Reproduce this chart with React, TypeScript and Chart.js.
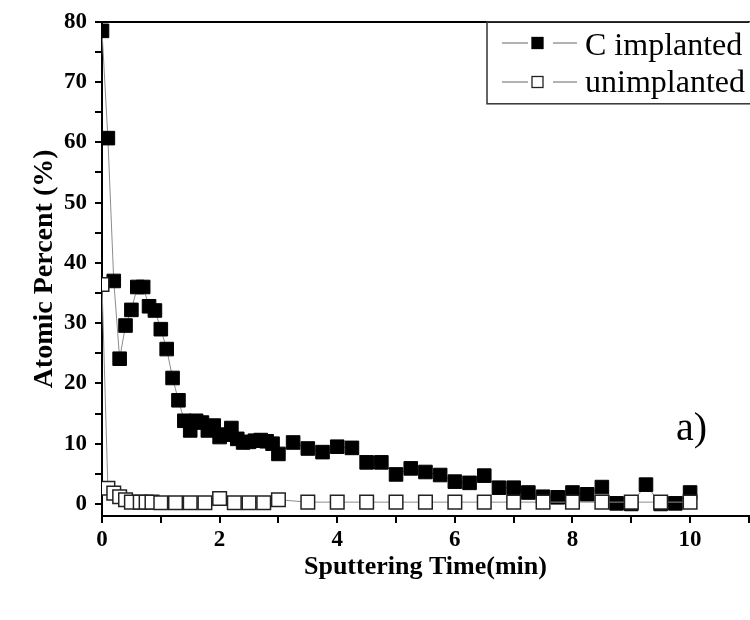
import React, { useEffect, useRef } from "react";
import { Chart, registerables } from "chart.js";

Chart.register(...registerables);

// ---- data ----
const cTime = [
  0, 0.1, 0.2, 0.3, 0.4, 0.5, 0.6, 0.7, 0.8, 0.9, 1.0, 1.1, 1.2, 1.3,
  1.4, 1.5, 1.6, 1.7, 1.8, 1.9, 2.0, 2.1, 2.2, 2.3, 2.4, 2.5, 2.6, 2.7, 2.8, 2.9, 3.0,
  3.25, 3.5, 3.75, 4.0, 4.25, 4.5, 4.75, 5.0, 5.25, 5.5, 5.75, 6.0, 6.25, 6.5, 6.75,
  7.0, 7.25, 7.5, 7.75, 8.0, 8.25, 8.5, 8.75, 9.0, 9.25, 9.5, 9.75, 10.0,
];
const cValues = [
  78.5, 60.7, 37.0, 24.1, 29.6, 32.2, 36.0, 36.0, 32.8, 32.1, 29.0, 25.7, 20.9, 17.2,
  13.8, 12.2, 13.8, 13.5, 12.2, 13.0, 11.1, 11.5, 12.6, 10.8, 10.2, 10.3, 10.5, 10.6, 10.4, 10.0, 8.3,
  10.2, 9.2, 8.6, 9.5, 9.3, 6.9, 6.9, 4.9, 5.9, 5.3, 4.8, 3.7, 3.5, 4.7, 2.7,
  2.7, 1.9, 1.2, 1.1, 1.9, 1.6, 2.8, 0.1, 0.0, 3.2, 0.0, 0.1, 1.9,
];

const uTime = [
  0, 0.1, 0.2, 0.3, 0.4, 0.5, 0.65, 0.75, 0.85, 1.0, 1.25, 1.5, 1.75, 2.0, 2.25, 2.5, 2.75, 3.0,
  3.5, 4.0, 4.5, 5.0, 5.5, 6.0, 6.5, 7.0, 7.5, 8.0, 8.5, 9.0, 9.5, 10.0,
];
const uValues = [
  36.4, 2.6, 1.8, 1.2, 0.7, 0.3, 0.3, 0.3, 0.3, 0.2, 0.2, 0.2, 0.2, 0.9, 0.2, 0.2, 0.2, 0.7,
  0.3, 0.3, 0.3, 0.3, 0.3, 0.3, 0.3, 0.3, 0.3, 0.3, 0.3, 0.3, 0.3, 0.3,
];

const seriesNames = ["C implanted", "unimplanted"];
const xTickValues = [0, 1, 2, 3, 4, 5, 6, 7, 8, 9, 10, 11];
const xTickLabels = ["0", "", "2", "", "4", "", "6", "", "8", "", "10", ""];
const yTickValues = [0, 5, 10, 15, 20, 25, 30, 35, 40, 45, 50, 55, 60, 65, 70, 75, 80];
const yTickLabels = ["0", "", "10", "", "20", "", "30", "", "40", "", "50", "", "60", "", "70", "", "80"];
const xTitle = "Sputtering Time(min)";
const yTitle = "Atomic Percent (%)";
const panelLabel = "a)";

const SERIF = "'Liberation Serif', 'Times New Roman', serif";

const overlayPlugin = {
  id: "overlay",
  afterDraw(chart: any) {
    const ctx = chart.ctx;
    const ca = chart.chartArea;
    ctx.save();
    // legend box
    const bx = ca.left + 385;
    const by = ca.top;
    ctx.strokeStyle = "#333";
    ctx.lineWidth = 1.5;
    ctx.strokeRect(bx, by, 300, 82);
    const rows = [
      { y: 43, fill: "#000", stroke: "#000", text: seriesNames[0], base: 55 },
      { y: 82, fill: "#fff", stroke: "#222", text: seriesNames[1], base: 92 },
    ];
    rows.forEach((r) => {
      ctx.strokeStyle = "#666";
      ctx.lineWidth = 1;
      ctx.beginPath();
      ctx.moveTo(bx + 15, r.y);
      ctx.lineTo(bx + 41, r.y);
      ctx.moveTo(bx + 66, r.y);
      ctx.lineTo(bx + 90, r.y);
      ctx.stroke();
      ctx.fillStyle = r.fill;
      ctx.fillRect(bx + 45, r.y - 5.5, 11, 11);
      ctx.strokeStyle = r.stroke;
      ctx.lineWidth = 1.3;
      ctx.strokeRect(bx + 45, r.y - 5.5, 11, 11);
      ctx.fillStyle = "#000";
      ctx.font = `32px ${SERIF}`;
      ctx.textBaseline = "alphabetic";
      ctx.textAlign = "left";
      ctx.fillText(r.text, bx + 98, r.base);
    });
    // panel label
    ctx.font = `40px ${SERIF}`;
    ctx.fillStyle = "#000";
    ctx.fillText(panelLabel, 676, 440);
    ctx.restore();
  },
};

export default function App() {
  const ref = useRef<HTMLCanvasElement | null>(null);

  useEffect(() => {
    if (!ref.current) return;
    const tickFont = { family: SERIF, size: 23, weight: "bold" as const };
    const xTitleFont = { family: SERIF, size: 26, weight: "bold" as const };
    const yTitleFont = { family: SERIF, size: 28, weight: "bold" as const };
    const chart = new Chart(ref.current, {
      type: "scatter",
      data: {
        datasets: [
          {
            label: seriesNames[0],
            data: cTime.map((t, i) => ({ x: t, y: cValues[i] })),
            showLine: true,
            borderColor: "#8c8c8c",
            borderWidth: 1,
            pointStyle: "rect",
            pointRadius: 9.6,
            pointBackgroundColor: "#000",
            pointBorderColor: "#000",
            pointBorderWidth: 1,
            order: 1,
          },
          {
            label: seriesNames[1],
            data: uTime.map((t, i) => ({ x: t, y: uValues[i] })),
            showLine: true,
            borderColor: "#8c8c8c",
            borderWidth: 1,
            pointStyle: "rect",
            pointRadius: 9.6,
            pointBackgroundColor: "#fff",
            pointBorderColor: "#222",
            pointBorderWidth: 1.5,
            order: 0,
          },
        ],
      },
      options: {
        animation: false,
        responsive: false,
        devicePixelRatio: 1,
        layout: { padding: { left: 28, top: 18, right: 7, bottom: 37 } },
        plugins: { legend: { display: false }, tooltip: { enabled: false } },
        scales: {
          x: {
            type: "linear",
            position: "bottom",
            min: 0,
            max: 11,
            afterBuildTicks: (s: any) => {
              s.ticks = xTickValues.map((v) => ({ value: v }));
            },
            afterFit: (s: any) => {
              s.height = 67;
            },
            ticks: {
              font: tickFont,
              color: "#000",
              padding: 3,
              maxRotation: 0,
              autoSkip: false,
              callback: (v: any) => {
                const i = xTickValues.indexOf(Number(v));
                return i >= 0 ? xTickLabels[i] : "";
              },
            },
            grid: { drawOnChartArea: false, drawTicks: true, tickLength: 7, color: "#000", lineWidth: 2 },
            border: { display: true, color: "#000", width: 2 },
            title: { display: true, text: xTitle, font: xTitleFont, color: "#000", padding: 0 },
          },
          x2: {
            type: "linear",
            position: "top",
            min: 0,
            max: 11,
            afterFit: (s: any) => {
              s.height = 0;
            },
            ticks: { display: false },
            grid: { drawOnChartArea: false, drawTicks: false },
            border: { display: true, color: "#000", width: 2 },
          },
          y: {
            type: "linear",
            min: -2,
            max: 80,
            afterBuildTicks: (s: any) => {
              s.ticks = yTickValues.map((v) => ({ value: v }));
            },
            afterFit: (s: any) => {
              s.width = 74;
            },
            ticks: {
              font: tickFont,
              color: "#000",
              padding: 8,
              autoSkip: false,
              callback: (v: any) => {
                const i = yTickValues.indexOf(Number(v));
                return i >= 0 ? yTickLabels[i] : "";
              },
            },
            grid: { drawOnChartArea: false, drawTicks: true, tickLength: 7, color: "#000", lineWidth: 2 },
            border: { display: true, color: "#000", width: 2 },
            title: { display: true, text: yTitle, font: yTitleFont, color: "#000", padding: 0 },
          },
        },
      },
      plugins: [overlayPlugin],
    });
    return () => chart.destroy();
  }, []);

  return (
    <div
      style={{
        position: "fixed",
        left: 0,
        top: 0,
        width: 750,
        height: 620,
        overflow: "hidden",
        background: "#fff",
      }}
    >
      <canvas ref={ref} width={760} height={620} style={{ width: 760, height: 620 }} />
    </div>
  );
}
